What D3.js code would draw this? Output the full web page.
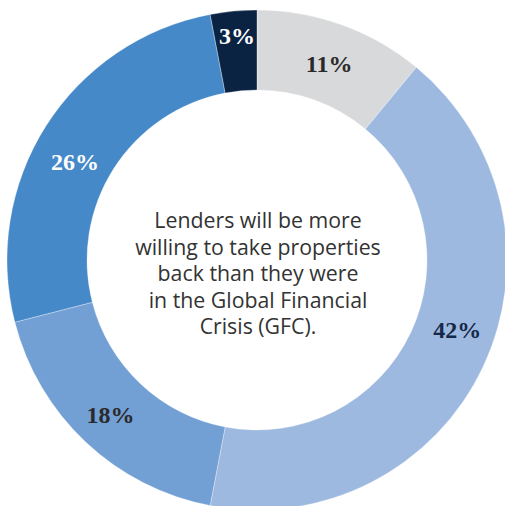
<!DOCTYPE html>
<html>
<head>
<meta charset="utf-8">
<script src="https://cdn.jsdelivr.net/npm/d3@7"></script>
<style>
  html, body { margin: 0; padding: 0; background: #fff; }
  svg { display: block; }
</style>
</head>
<body>
<svg id="chart" width="505" height="506"></svg>
<script>
// ---- data ----
const categories = ["A", "B", "C", "D", "E"];
const values = [11, 42, 18, 26, 3];
const valueLabels = ["11%", "42%", "18%", "26%", "3%"];
const centerLines = [
  "Lenders will be more",
  "willing to take properties",
  "back than they were",
  "in the Global Financial",
  "Crisis (GFC)."
];

// ---- style ----
const sliceColors = ["#d8d9da", "#9eb9e0", "#729fd4", "#4689c8", "#0b2343"];
const labelColors = ["#2a2a2a", "#17294a", "#2a2a2a", "#ffffff", "#ffffff"];
// label placement nudges (degrees / px), styling only
const labelAngleShift = [0.4, -6, 0.3, -4, 0.3];
const labelRadius = [209, 212, 213, 207, 225];

const svg = d3.select("#chart");
const cx = 257, cy = 260, outerR = 250, innerR = 170;
const g = svg.append("g").attr("transform", `translate(${cx},${cy})`);

const pie = d3.pie().sort(null).value(d => d.value);
const data = categories.map((c, i) => ({ cat: c, value: values[i], label: valueLabels[i], i }));
const arcs = pie(data);
const arc = d3.arc().innerRadius(innerR).outerRadius(outerR);

g.selectAll("path.slice")
  .data(arcs)
  .join("path")
  .attr("class", "slice")
  .attr("d", arc)
  .attr("fill", d => sliceColors[d.data.i])
  .attr("stroke", "rgba(255,255,255,0.55)")
  .attr("stroke-width", 0.6);

g.selectAll("text.lbl")
  .data(arcs)
  .join("text")
  .attr("class", "lbl")
  .attr("transform", d => {
    const a = (d.startAngle + d.endAngle) / 2 + labelAngleShift[d.data.i] * Math.PI / 180;
    const r = labelRadius[d.data.i];
    return `translate(${r * Math.sin(a)},${-r * Math.cos(a)})`;
  })
  .attr("text-anchor", "middle")
  .attr("dy", "0.35em")
  .attr("font-family", "'Liberation Serif', serif")
  .attr("font-weight", "bold")
  .attr("font-size", 24)
  .attr("fill", d => labelColors[d.data.i])
  .text(d => d.data.label);

const ct = g.append("text")
  .attr("text-anchor", "middle")
  .attr("font-family", "'Open Sans', 'Noto Sans', sans-serif")
  .attr("font-size", 21.3)
  .attr("fill", "#333333");
centerLines.forEach((line, k) => {
  ct.append("tspan").attr("x", 1).attr("y", -32 + k * 26.6).text(line);
});
</script>
</body>
</html>
